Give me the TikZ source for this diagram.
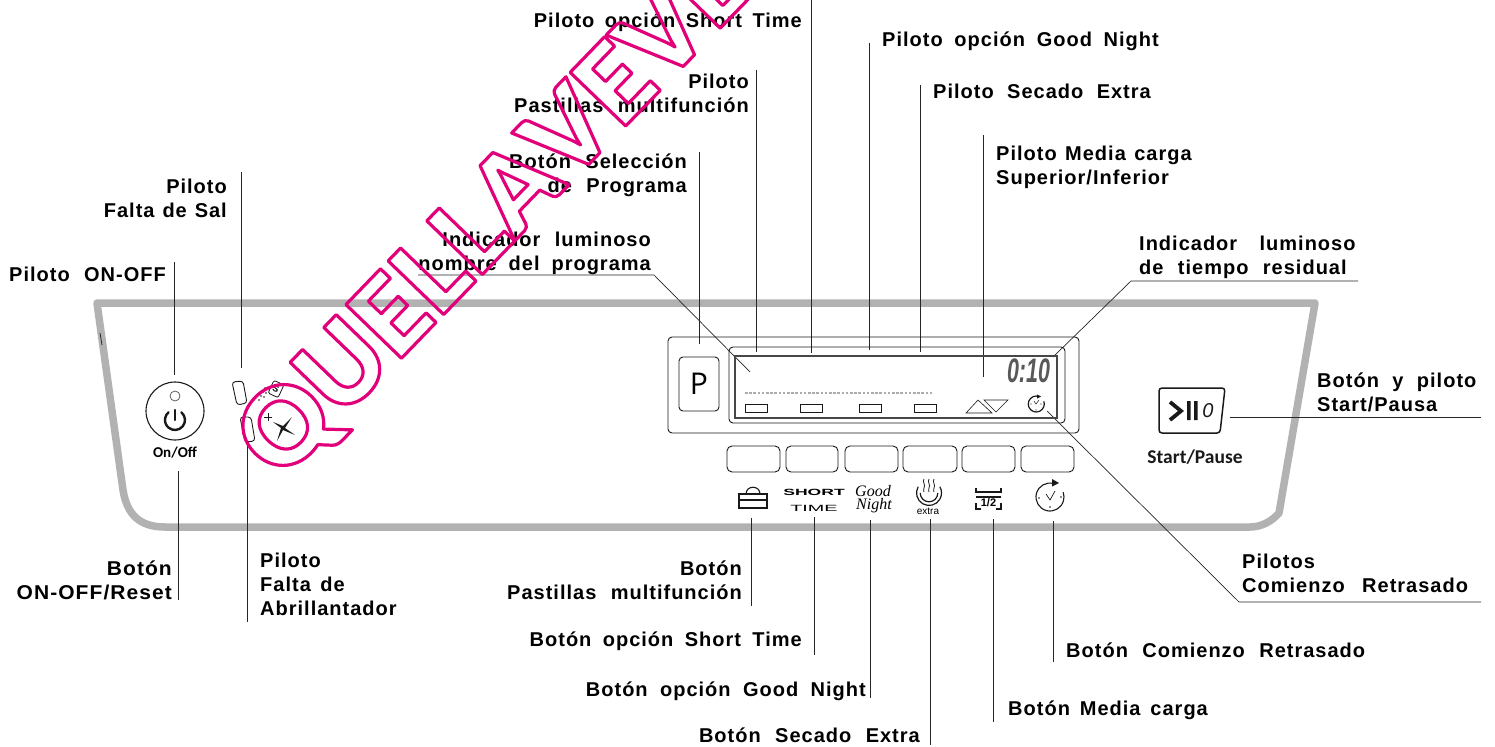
\documentclass[tikz,border=0pt]{standalone}
\usepackage{fontspec}
\setmainfont{Liberation Sans}
\newfontfamily\lblfont[LetterSpace=5,WordSpace=2.2]{Liberation Sans Bold}
\newfontfamily\wmfont[LetterSpace=0,Kerning=Off]{Lato Black}
\newfontfamily\panelfont{Carlito Bold}
\newfontfamily\pfont{Open Sans}
\newfontfamily\handfont{Liberation Serif Italic}
\definecolor{frame}{gray}{0.70}
\definecolor{lead}{gray}{0.15}
\definecolor{ink}{gray}{0.1}
\definecolor{wm}{RGB}{226,0,122}
\newcommand{\leaderline}[5]{\coordinate (#1a) at (#2,#3);\coordinate (#1b) at (#4,#5);\draw[leader] (#1a) -- (#1b);}
\newcommand{\ws}[1]{\spaceskip=\dimexpr\fontdimen2\font+#1bp\relax}
\tikzset{
  leader/.style={draw=lead,line width=0.9pt},
  panel/.style={draw=ink,line width=0.9pt},
  icon/.style={draw=ink,line width=1.1pt},
  lbl/.style={inner sep=0pt,text=black,font=\lblfont\fontsize{20bp}{24bp}\selectfont},
  lblR/.style={lbl,anchor=base east,align=right},
  lblL/.style={lbl,anchor=base west,align=left},
}
\begin{document}
\begin{tikzpicture}[x=1bp,y=-1bp]
\useasboundingbox (0,0) rectangle (1495,747);
% frame
\draw[frame,line width=7.5bp,line join=round] (1315,303) -- (97,303) -- (123,490) .. controls (127,515) and (140,527) .. (165,527) -- (1250,527) .. controls (1262,527) and (1272,521) .. (1279,513) -- cycle;
\draw[lead,line width=0.8pt] (100,333) -- (102,345);
% leaders
\leaderline{l1}{174}{262}{174}{375}
\leaderline{l2}{241}{172}{241}{368}
\leaderline{l3}{247}{445}{247}{622}
\leaderline{l4}{178}{471}{178}{600}
\leaderline{l5}{699}{152}{699}{344}
\leaderline{l6}{756}{70}{756}{352}
\leaderline{l7}{811}{0}{811}{353}
\leaderline{l8}{869}{43}{869}{350}
\leaderline{l9}{920}{85}{920}{352}
\leaderline{l10}{983}{135}{983}{377}
\leaderline{l11}{751}{518}{751}{606}
\leaderline{l12}{814}{517}{814}{655}
\leaderline{l13}{870}{520}{870}{698}
\leaderline{l14}{930}{519}{930}{745}
\leaderline{l15}{993}{519}{993}{722}
\leaderline{l16}{1053}{521}{1053}{662}
\coordinate (d1a) at (418,275);\coordinate (d1b) at (654,275);\coordinate (d1c) at (750,372);
\draw[leader,line width=0.7pt] (d1a) -- (d1b) -- (d1c);
\coordinate (d2a) at (1358,281);\coordinate (d2b) at (1131,281);\coordinate (d2c) at (1053,357);
\draw[leader,line width=0.7pt] (d2a) -- (d2b) -- (d2c);
\coordinate (d3a) at (1481,602);\coordinate (d3b) at (1239,602);\coordinate (d3c) at (1047,411);
\draw[leader,line width=0.7pt] (d3a) -- (d3b) -- (d3c);
\leaderline{l17}{1230}{417}{1481}{417}
% labels
\node[lblL] (t1) at (9,281) {Piloto ON-OFF};
\node[lblR] (t2) at (227,217) {Piloto\\\ws{-6.5}Falta de Sal};
\node[lblR,xscale=1.05] (t3) at (172,599) {Botón\\ON-OFF/Reset};
\node[lblL] (t4) at (260,615) {Piloto\\\ws{-5}Falta de\\Abrillantador};
\node[lblR] (t5) at (802,28) {\ws{-4}Piloto opción Short Time};
\node[lblL] (t6) at (882,47) {\ws{-2.7}Piloto opción Good Night};
\node[lblL] (t7) at (933,98) {\ws{-1}Piloto Secado Extra};
\node[lblR] (t8) at (749,112) {Piloto\\Pastillas multifunción};
\node[lblR] (t9) at (687,192) {Botón Selección\\de Programa};
\node[lblR] (t10) at (651,270) {Indicador luminoso\\\ws{-2.5}nombre del programa};
\node[lblL] (t11) at (996,184) {\ws{-6}Piloto Media carga\\Superior/Inferior};
\node[lblL] (t12) at (1139,274) {{\ws{8}Indicador luminoso}\\de tiempo residual};
\node[lblL] (t13) at (1317,411) {\ws{-1}Botón y piloto\\Start/Pausa};
\node[lblL] (t14) at (1242,592) {Pilotos\\\ws{3}Comienzo Retrasado};
\node[lblL] (t15) at (1066,657) {Botón Comienzo Retrasado};
\node[lblL] (t16) at (1008,715) {\ws{-4.5}Botón Media carga};
\node[lblR] (t17) at (920,742) {Botón Secado Extra};
\node[lblR] (t18) at (866,696) {\ws{-2}Botón opción Good Night};
\node[lblR] (t19) at (802,646) {\ws{-3}Botón opción Short Time};
\node[lblR] (t20) at (742,599) {Botón\\Pastillas multifunción};
% power button
\node[circle,draw=ink,line width=1.1pt,minimum size=58bp,inner sep=0] (pwr) at (175,411) {};
\node[circle,draw=ink!70,line width=0.8pt,minimum size=10bp,inner sep=0] (led) at (175,396) {};
\draw[ink,line width=2.4bp,line cap=round] (181.4,412.3) arc[start angle=50,end angle=-230,radius=10bp];
\draw[ink,line width=2.4bp,line cap=round] (175,410) -- (175,420);
\node[inner sep=0,font=\panelfont\fontsize{15bp}{15bp}\selectfont] (onoff) at (175,453) {On/Off};
% small lamps
\draw[icon,rounded corners=3bp,line width=0.9pt] (232,382) -- (243,381) -- (247,403) -- (237,405) -- cycle;
\draw[icon,rounded corners=3bp,line width=0.9pt] (240,417) -- (251,417) -- (255,441) -- (245,442) -- cycle;
% salt icon
\node[draw=ink,rounded corners=2bp,rotate=-25,minimum width=11bp,minimum height=14bp,inner sep=0,line width=0.8pt,font=\bfseries\fontsize{9bp}{9bp}\selectfont] (salt) at (276,389) {S};
\foreach \p in {(259,400),(261,396),(264,397),(263,392),(266,393),(265,388)} \fill[ink] \p circle (0.9bp);
% rinse icon
\draw[ink,line width=1bp] (264,417) -- (272,417) (268,413) -- (268,421);
\fill[ink] (273,422) -- (283,426) -- (292,417) -- (285,428) -- (295,435) -- (283,430) -- (277,441) -- (281,428) -- cycle;
% display
\draw[panel,rounded corners=4bp] (668,337) rectangle (1079,433);
\node[panel,draw,rounded corners=4bp,minimum width=40bp,minimum height=54bp,inner sep=0,font=\pfont\fontsize{30bp}{30bp}\selectfont] (pbtn) at (699,384) {P};
\draw[panel,rounded corners=4bp] (729,347) rectangle (1065,423);
\draw[panel,draw=ink!80,line width=1.3pt] (735,356) rectangle (1057,418);
\draw[gray!65,line width=2.4bp,dash pattern=on 2.6bp off 1.6bp] (745,393) -- (933,393);
\foreach \x in {745,800,859,914} \draw[panel,line width=0.7pt] (\x,404) rectangle ++(22,8);
\draw[panel,line width=0.6pt] (966,413) -- (978,400) -- (992,413) -- cycle;
\draw[panel,line width=0.6pt] (984,400) -- (1008,400) -- (996,412) -- cycle;
\node[inner sep=0,xscale=0.63,text=gray!70!black,font=\bfseries\itshape\fontsize{34bp}{34bp}\selectfont] (timer) at (1028.5,371) {0:10};
\draw[ink,line width=1.2bp] (1039,396.5) arc[start angle=70,end angle=380,radius=8bp];
\fill[ink] (1037,394.5) -- (1041,396.5) -- (1037,398.5) -- cycle;
\draw[ink,line width=0.5bp] (1034,401) -- (1036,404) -- (1039,400);
\foreach \p in {(1031,404),(1036,410),(1041,404)} \fill[ink] \p circle (0.6bp);
% buttons
\foreach \a/\b in {727/780,786/838,845/898,903/957,962/1015,1021/1074} \draw[panel,rounded corners=5bp] (\a,446) rectangle (\b,472);
% briefcase
\draw[icon] (739,494) rectangle (767,508);
\draw[icon] (739,500) -- (767,500);
\draw[icon] (746,494) .. controls (746,485) and (760,485) .. (760,494);
% short time
\node[inner sep=0,xscale=1.95,font=\bfseries\fontsize{9bp}{9bp}\selectfont] (shrt) at (814,492) {SHORT};
\node[inner sep=0,xscale=2.2,font=\fontsize{9bp}{9bp}\selectfont] (tim) at (814,508) {TIME};
% good night
\node[inner sep=0,font=\handfont\fontsize{16bp}{16bp}\selectfont] (gd) at (873,491) {Good};
\node[inner sep=0,font=\handfont\fontsize{16bp}{16bp}\selectfont] (nt) at (874,506) {Night};
% extra
\draw[ink,line width=1.2bp] (918.2,486.7) arc[start angle=150,end angle=390,radius=12.5bp];
\draw[ink,line width=1.2bp] (920.2,493) arc[start angle=180,end angle=360,radius=8.8bp];
\foreach \x in {924,929,934} \draw[ink,line width=0.8bp] (\x,479) .. controls (\x-2,482) and (\x+2,485) .. (\x,488) .. controls (\x-1,490) and (\x,491) .. (\x,492);
\node[inner sep=0,font=\fontsize{10bp}{10bp}\selectfont] (ext) at (928,511) {extra};
% half
\draw[icon] (976,488) -- (976,492) -- (1001,492) -- (1001,488);
\draw[icon] (976,497) -- (1001,497);
\draw[icon] (976,503) -- (976,509) -- (981,509);\draw[icon] (1001,503) -- (1001,509) -- (996,509);
\node[inner sep=0,font=\bfseries\fontsize{11bp}{11bp}\selectfont] (half) at (988.5,503) {1/2};
% clock
\draw[icon] (1053.6,483.5) arc[start angle=75,end angle=380,radius=14bp];
\fill[ink] (1052,479) -- (1059,483) -- (1052,486.5) -- cycle;
\draw[ink,line width=0.7bp] (1046,494) -- (1050,500) -- (1055,491);
\foreach \p in {(1039,498),(1050,507),(1061,497)} \fill[ink] \p circle (0.9bp);
% start
\draw[ink,line width=1.5bp,rounded corners=3bp] (1159,388) -- (1225,388) -- (1220,433) -- (1159,433) -- cycle;
\draw[ink,line width=3.8bp] (1170,402) -- (1181,411) -- (1170,420);
\fill[ink] (1187,401) rectangle (1190.5,420) (1194,401) rectangle (1197.5,420);
\node[inner sep=0,font=\itshape\fontsize{20bp}{20bp}\selectfont,text=ink] (zero) at (1208,411) {0};
\node[inner sep=0,font=\panelfont\fontsize{19.5bp}{20bp}\selectfont,text=ink] (stp) at (1195,457) {Start/Pause};
% watermark
\node[rotate=46,anchor=base west,inner sep=0,text=wm,font=\wmfont\fontsize{106bp}{106bp}\selectfont] (mark) at (281,483) {\special{pdf:code q 1 Tr 3.2 w 1 j 0.886 0 0.478 RG}QUELLAVEVE\special{pdf:code Q}};
\end{tikzpicture}
\end{document}
